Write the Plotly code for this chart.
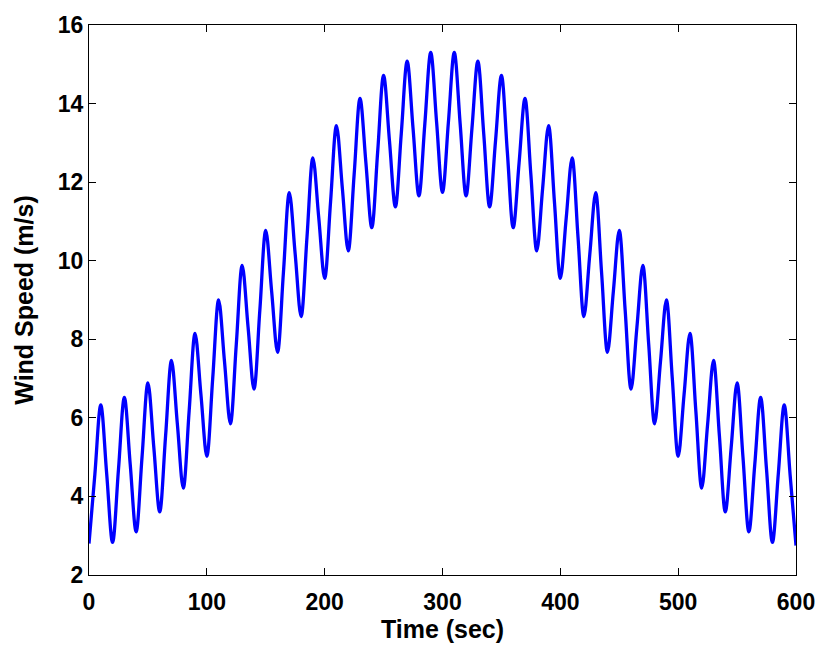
import plotly.graph_objects as go

time_sec = list(range(0, 601, 5))
wind_speed = [
    2.80, 4.57, 6.33, 4.58, 2.83, 4.68, 6.52, 4.81, 3.10, 5.00,
    6.89, 5.25, 3.61, 5.54, 7.46, 5.84, 4.21, 6.18, 8.15, 6.59,
    5.02, 7.01, 9.00, 7.43, 5.85, 7.87, 9.88, 8.31, 6.73, 8.75,
    10.77, 9.22, 7.67, 9.70, 11.73, 10.16, 8.58, 10.60, 12.62, 11.09,
    9.55, 11.50, 13.44, 11.85, 10.25, 12.19, 14.13, 12.49, 10.84, 12.78,
    14.72, 13.05, 11.37, 13.23, 15.08, 13.37, 11.65, 13.48, 15.30, 13.52,
    11.74,
    13.52, 15.30, 13.48, 11.65, 13.37, 15.08, 13.23, 11.37, 13.05,
    14.72, 12.78, 10.84, 12.49, 14.13, 12.19, 10.25, 11.85, 13.44, 11.50,
    9.55, 11.09, 12.62, 10.60, 8.58, 10.16, 11.73, 9.70, 7.67, 9.22,
    10.77, 8.75, 6.73, 8.31, 9.88, 7.87, 5.85, 7.43, 9.00, 7.01,
    5.02, 6.59, 8.15, 6.18, 4.21, 5.84, 7.46, 5.54, 3.61, 5.25,
    6.89, 5.00, 3.10, 4.81, 6.52, 4.68, 2.83, 4.58, 6.33, 4.55,
    2.75,
]
x_ticks = [0, 100, 200, 300, 400, 500, 600]
y_ticks = [2, 4, 6, 8, 10, 12, 14, 16]
x_title = "Time (sec)"
y_title = "Wind Speed (m/s)"

family = "Liberation Sans, Arial, sans-serif"

fig = go.Figure()
fig.add_trace(go.Scatter(
    x=time_sec, y=wind_speed, mode="lines",
    line=dict(color="#0000FF", width=3.3, shape="spline", smoothing=1.0),
    showlegend=False,
))

axis_common = dict(
    showgrid=False, zeroline=False, showline=True, mirror="ticks",
    linecolor="black", linewidth=1, ticks="inside", ticklen=7,
    tickcolor="black", tickwidth=1,
    tickfont=dict(family=family, size=23, color="black", weight="bold"),
)

fig.update_layout(
    width=827, height=649,
    margin=dict(l=89, r=25, t=18, b=69),
    paper_bgcolor="white", plot_bgcolor="white",
    font=dict(family=family, color="black"),
    xaxis=dict(range=[0, 600], tickvals=x_ticks,
               title=dict(text=x_title, standoff=5,
                          font=dict(family=family, size=25, weight="bold")),
               ticklabelstandoff=6, **axis_common),
    yaxis=dict(range=[2, 16], tickvals=y_ticks,
               title=dict(text=y_title, standoff=17,
                          font=dict(family=family, size=25, weight="bold")),
               ticklabelstandoff=0, **axis_common),
)

fig.write_html("out.html")
